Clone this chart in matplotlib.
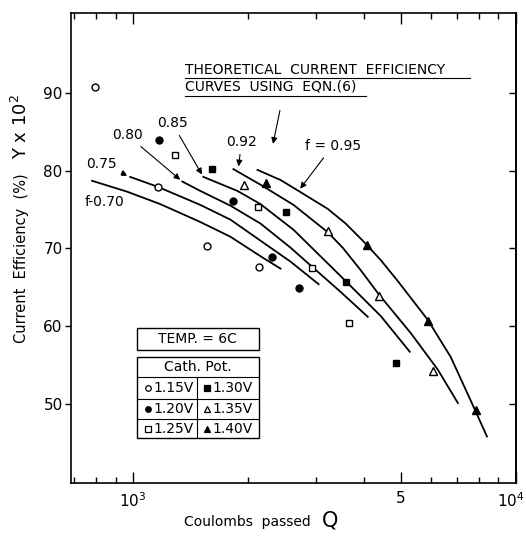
import matplotlib
matplotlib.use('Agg')
import matplotlib.pyplot as plt
import matplotlib.transforms as mtransforms
from matplotlib.patches import Rectangle

# theoretical curves (Q in coulombs, Y in %)
q_070 = [781, 964, 1177, 1497, 1795, 2150, 2426]
y_070 = [78.7, 77.3, 75.7, 73.4, 71.5, 69.0, 67.4]
q_075 = [982, 1163, 1497, 1795, 2150, 2576, 3050]
y_075 = [79.2, 77.9, 75.6, 73.7, 71.0, 68.3, 65.4]
q_080 = [1344, 1497, 1795, 2150, 2576, 2924, 3483, 4100]
y_080 = [78.6, 77.4, 75.5, 73.2, 70.1, 67.7, 64.4, 61.2]
q_085 = [1525, 1872, 2150, 2623, 3280, 3589, 4433, 5279]
y_085 = [79.2, 77.4, 75.7, 72.4, 67.7, 65.8, 61.3, 56.7]
q_092 = [1827, 2150, 2623, 3220, 3525, 3929, 4380, 5311, 6249, 7051]
y_092 = [80.2, 78.2, 75.6, 72.1, 70.1, 67.2, 64.1, 59.1, 54.4, 50.1]
q_095 = [2112, 2426, 2703, 3220, 3589, 3977, 4433, 4911, 5884, 6757, 7766, 8397]
y_095 = [80.1, 78.8, 77.4, 75.1, 73.2, 71.0, 68.5, 65.8, 60.8, 56.0, 49.5, 45.8]

# measured points by cathode potential
q_115 = [795, 1163, 1562, 2137]
y_115 = [90.8, 77.9, 70.3, 67.6]
q_120 = [1170, 1827, 2311, 2703]
y_120 = [84.0, 76.1, 68.9, 64.9]
q_125 = [1288, 2124, 2924, 3655]
y_125 = [82.0, 75.3, 67.5, 60.4]
q_130 = [1610, 2500, 3589, 4852]
y_130 = [80.2, 74.7, 65.7, 55.3]
q_135 = [1952, 3220, 4380, 6063]
y_135 = [78.2, 72.3, 63.9, 54.2]
q_140 = [2229, 4074, 5884, 7857]
y_140 = [78.4, 70.5, 60.7, 49.2]

fig = plt.figure(figsize=(5.26, 5.38), dpi=100)
ax = fig.add_axes([0.135, 0.102, 0.846, 0.874])
ax.set_xscale('log')
ax.set_xlim(688, 10000)
ax.set_ylim(39.8, 100.3)

for q, y in [(q_070, y_070), (q_075, y_075), (q_080, y_080),
             (q_085, y_085), (q_092, y_092), (q_095, y_095)]:
    ax.plot(q, y, color='black', lw=1.3)

ms = 5
ax.plot(q_115, y_115, 'o', mfc='white', mec='black', ms=ms, mew=1)
ax.plot(q_120, y_120, 'o', mfc='black', mec='black', ms=ms)
ax.plot(q_125, y_125, 's', mfc='white', mec='black', ms=ms, mew=1)
ax.plot(q_130, y_130, 's', mfc='black', mec='black', ms=ms)
ax.plot(q_135, y_135, '^', mfc='white', mec='black', ms=ms + 1, mew=1)
ax.plot(q_140, y_140, '^', mfc='black', mec='black', ms=ms + 1)

# curve labels
arr = dict(arrowstyle='-|>', color='black', lw=0.8, mutation_scale=9)
ax.annotate('0.80', xy=(q_080[0], y_080[0]), xytext=(964, 84.6), fontsize=10,
            ha='center', va='center', arrowprops=arr)
ax.annotate('0.85', xy=(q_085[0], y_085[0]), xytext=(1265, 86.1), fontsize=10,
            ha='center', va='center', arrowprops=arr)
ax.annotate('0.92', xy=(q_092[0] * 1.03, y_092[0]), xytext=(1918, 83.7), fontsize=10,
            ha='center', va='center', arrowprops=arr)
ax.annotate('0.75', xy=(q_075[0], y_075[0]), xytext=(824, 80.9), fontsize=10,
            ha='center', va='center',
            arrowprops=dict(arrowstyle='-|>', color='black', lw=0.8,
                            ls='--', mutation_scale=9))
ax.text(840, 76.0, 'f-0.70', fontsize=10, ha='center', va='center')
ax.annotate('f = 0.95', xy=(q_095[2], y_095[2]), xytext=(3319, 83.2), fontsize=10,
            ha='center', va='center', arrowprops=arr)

ax.text(1368, 93.0, 'THEORETICAL  CURRENT  EFFICIENCY', fontsize=10,
        ha='left', va='center')
ax.text(1368, 90.8, 'CURVES  USING  EQN.(6)', fontsize=10, ha='left', va='center')
ax.plot([0.256, 0.897], [0.861, 0.861], transform=ax.transAxes, color='black', lw=0.8)
ax.plot([0.256, 0.663], [0.823, 0.823], transform=ax.transAxes, color='black', lw=0.8)
ax.annotate('', xy=(2311, 83.1), xytext=(2426, 88.1), arrowprops=arr)

# ticks
ax.set_yticks([50, 60, 70, 80, 90])
ax.tick_params(axis='y', which='major', direction='out', length=4, width=1,
               labelsize=11, pad=2)
ax.set_xticks([1000, 5000, 10000])
ax.set_xticklabels(['$10^3$', '5', '$10^4$'])
ax.set_xticks([700, 800, 900, 2000, 3000, 4000, 6000, 7000, 8000, 9000], minor=True)
ax.xaxis.set_minor_formatter(plt.NullFormatter())
ax.tick_params(axis='x', which='major', direction='in', length=8, width=1,
               top=True, labelsize=11, pad=6)
ax.tick_params(axis='x', which='minor', direction='in', length=4, width=1, top=True)
last = ax.get_xticklabels()[-1]
last.set_transform(last.get_transform() +
                   mtransforms.ScaledTranslation(-5 / 100, 0, fig.dpi_scale_trans))
sec = ax.secondary_yaxis('right')
sec.set_yticks([50, 60, 70, 80, 90])
sec.tick_params(direction='in', length=5, width=1, labelright=False)
sec.spines['right'].set_linewidth(1.2)
for s in ax.spines.values():
    s.set_linewidth(1.2)

fig.text(0.04, 0.52, 'Current  Efficiency  (%)', rotation=90, fontsize=10.5,
         ha='center', va='center')
fig.text(0.04, 0.764, 'Y x $10^2$', rotation=90, fontsize=13, ha='center', va='center')
fig.text(0.47, 0.03, 'Coulombs  passed', fontsize=10, ha='center', va='center')
fig.text(0.628, 0.033, 'Q', fontsize=15, ha='center', va='center')

# legend table
ax.add_patch(Rectangle((0.148, 0.283), 0.2745, 0.047, transform=ax.transAxes,
                       fill=False, lw=1, clip_on=False))
ax.text(0.285, 0.3065, 'TEMP. = 6C', transform=ax.transAxes, fontsize=10,
        ha='center', va='center')
ax.add_patch(Rectangle((0.148, 0.0957), 0.2745, 0.1723, transform=ax.transAxes,
                       fill=False, lw=1, clip_on=False))
for yy in [0.2255, 0.1787, 0.136]:
    ax.plot([0.148, 0.4225], [yy, yy], transform=ax.transAxes, color='black', lw=0.8)
ax.plot([0.283, 0.283], [0.0957, 0.2255], transform=ax.transAxes, color='black', lw=0.8)
ax.text(0.285, 0.247, 'Cath. Pot.', transform=ax.transAxes, fontsize=10,
        ha='center', va='center')
cells = [(0.173, 0.202, 'o', 'white', '1.15V'), (0.306, 0.202, 's', 'black', '1.30V'),
         (0.173, 0.157, 'o', 'black', '1.20V'), (0.306, 0.157, '^', 'white', '1.35V'),
         (0.173, 0.116, 's', 'white', '1.25V'), (0.306, 0.116, '^', 'black', '1.40V')]
for cx, cy, mk, fc, lab in cells:
    ax.plot([cx], [cy], mk, mfc=fc, mec='black', ms=4, mew=0.9,
            transform=ax.transAxes, clip_on=False)
    ax.text(cx + 0.012, cy, lab, transform=ax.transAxes, fontsize=10,
            ha='left', va='center')

fig.savefig('out.png', dpi=100)
